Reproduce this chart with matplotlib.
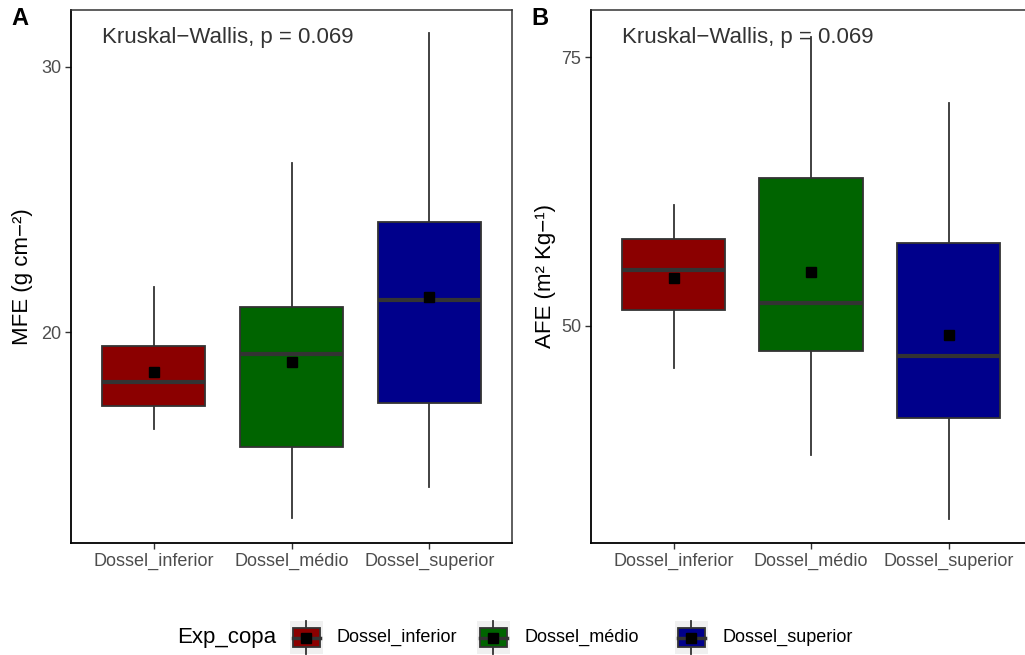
import matplotlib
matplotlib.use("Agg")
import matplotlib.pyplot as plt
from matplotlib.patches import Rectangle

plt.rcParams['font.family'] = ['Liberation Sans', 'DejaVu Sans']

# Box summaries per canopy layer (whiskers, quartiles, median, mean)
categories = ['Dossel_inferior', 'Dossel_médio', 'Dossel_superior']
fill_colors = ['#8B0000', '#006400', '#00008B']

mfe_lo = [16.33, 12.97, 14.14]
mfe_q1 = [17.22, 15.67, 17.32]
mfe_med = [18.12, 19.17, 21.21]
mfe_q3 = [19.47, 20.95, 24.14]
mfe_hi = [21.69, 26.36, 31.27]
mfe_mean = [18.50, 18.86, 21.33]

afe_lo = [46.07, 38.03, 32.05]
afe_q1 = [51.46, 47.70, 41.41]
afe_med = [55.18, 52.14, 47.24]
afe_q3 = [58.07, 63.74, 57.75]
afe_hi = [61.28, 76.86, 70.78]
afe_mean = [54.50, 55.05, 49.13]

kw_label = 'Kruskal\u2212Wallis, p = 0.069'

EDGE = '#333333'
TICK_TXT = '#4D4D4D'


def make_stats(lo, q1, med, q3, hi, mean):
    return [dict(whislo=a, q1=b, med=c, q3=d, whishi=e, mean=f, fliers=[])
            for a, b, c, d, e, f in zip(lo, q1, med, q3, hi, mean)]


def draw_panel(ax, stats, ylim, yticks, yminor, ylabel, tag, label_x):
    pos = list(range(1, len(categories) + 1))
    bp = ax.bxp(stats, positions=pos, widths=0.75, patch_artist=True,
                showmeans=True, showcaps=False, showfliers=False,
                boxprops=dict(edgecolor=EDGE, linewidth=1.3),
                whiskerprops=dict(color=EDGE, linewidth=1.3),
                medianprops=dict(color=EDGE, linewidth=3.0, solid_capstyle='butt'),
                meanprops=dict(marker='s', markerfacecolor='black',
                               markeredgecolor='black', markersize=7.5))
    for patch, c in zip(bp['boxes'], fill_colors):
        patch.set_facecolor(c)
    for w in bp['whiskers']:
        w.set_zorder(1)

    ax.set_xlim(0.4, 3.6)
    ax.set_ylim(*ylim)
    ax.set_xticks(pos)
    ax.set_xticklabels(categories)
    ax.set_yticks(yticks)
    ax.set_yticks(yminor, minor=True)
    ax.tick_params(axis='both', which='major', direction='out', length=4,
                   width=1, color=EDGE, labelsize=13, labelcolor=TICK_TXT, pad=3)
    ax.tick_params(axis='y', which='minor', direction='inout', length=3,
                   width=1, color='white')
    for side in ['left', 'bottom']:
        ax.spines[side].set_color('black')
        ax.spines[side].set_linewidth(1.3)
    for side in ['top', 'right']:
        ax.spines[side].set_color(EDGE)
        ax.spines[side].set_linewidth(1.1)
    ax.set_ylabel(ylabel, fontsize=16, color='black')
    ax.yaxis.set_label_coords(label_x, 0.5)
    ax.text(0.07, 0.949, kw_label, transform=ax.transAxes, fontsize=16,
            color='#333333', ha='left', va='center')
    ax.text(-0.135, 1.005, tag, transform=ax.transAxes, fontsize=17,
            fontweight='bold', ha='left', va='top')


fig = plt.figure(figsize=(10.25, 6.55), dpi=100)
ax_a = fig.add_axes([71 / 1025, 1 - 543 / 655, 441 / 1025, 533 / 655])
ax_b = fig.add_axes([591 / 1025, 1 - 543 / 655, 440 / 1025, 533 / 655])

draw_panel(ax_a, make_stats(mfe_lo, mfe_q1, mfe_med, mfe_q3, mfe_hi, mfe_mean),
           (12.04, 32.15), [20, 30], [15, 25],
           'MFE (g cm\u2212\u00b2)', 'A', -0.086)
draw_panel(ax_b, make_stats(afe_lo, afe_q1, afe_med, afe_q3, afe_hi, afe_mean),
           (29.8, 79.4), [50, 75], [37.5, 62.5],
           'AFE (m\u00b2 Kg\u2212\u00b9)', 'B', -0.080)

# Legend at the bottom, drawn in pixel units
leg = fig.add_axes([0, 0, 1, 70 / 655])
leg.set_xlim(0, 1025)
leg.set_ylim(655, 585)
leg.axis('off')
leg.text(276, 637, 'Exp_copa', fontsize=16, ha='right', va='center')
label_x = [337, 524, 722]
for lx, name, c in zip(label_x, categories, fill_colors):
    kx = lx - 31
    leg.add_patch(Rectangle((kx - 16.5, 621), 33, 33, facecolor='#F0F0F0',
                            edgecolor='none'))
    leg.plot([kx, kx], [621, 654], color=EDGE, lw=1.3, zorder=1)
    leg.add_patch(Rectangle((kx - 13.5, 628), 27, 19, facecolor=c,
                            edgecolor=EDGE, lw=1.3, zorder=2))
    leg.plot([kx - 13.5, kx + 13.5], [637.5, 637.5], color=EDGE, lw=2.5, zorder=3)
    leg.plot([kx], [637.5], marker='s', color='black', markersize=7.5, zorder=4)
    leg.text(lx, 637, name, fontsize=13, ha='left', va='center')

fig.savefig('out.png', dpi=100, facecolor='white')
